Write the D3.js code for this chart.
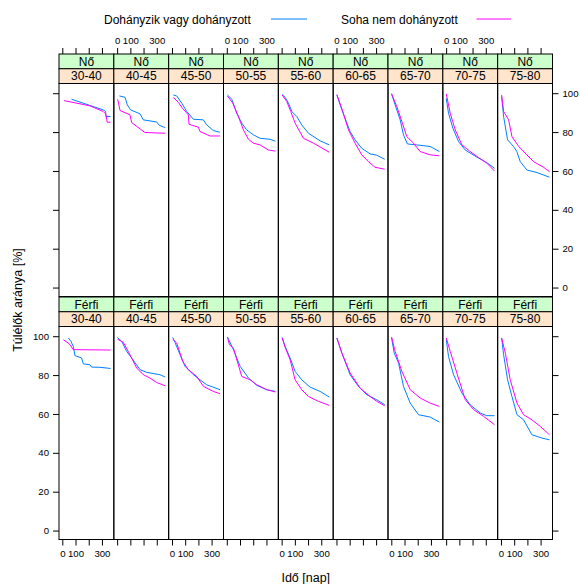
<!DOCTYPE html>
<html><head><meta charset="utf-8">
<script src="https://cdn.jsdelivr.net/npm/d3@7"></script>
<style>body{margin:0;background:#fff} svg{display:block} text{font-family:"Liberation Sans",Arial,sans-serif;fill:#000}</style>
</head><body><svg id="c" width="580" height="584"></svg>
<script>
// ---- data ----
const ageGroups = ["30-40","40-45","45-50","50-55","55-60","60-65","65-70","70-75","75-80"];
const sexLabels = ["Nő","Férfi"];
const seriesNames = ["Dohányzik vagy dohányzott","Soha nem dohányzott"];
const seriesColors = ["#0080ff","#ff00ff"];
const xTicks = [0,100,200,300];
const xTickLabels = ["0","100","","300"];
const yTicks = [0,20,40,60,80,100];
// [day, survival %] per age group
const noDohanyzik = [
 [[70,96.9],[310,91.4],[328,90.6],[330,88],[365,88]],
 [[17,98.6],[60,97.9],[77,94],[102,91.4],[173,89.4],[198,86.3],[299,85.2],[319,83.5],[364,82.3]],
 [[11,99.1],[36,98.6],[74,94.9],[112,90.6],[162,86.6],[237,86.3],[263,83.7],[313,80.8],[363,79.9]],
 [[5,99.1],[38,96.9],[75,89.7],[113,84.6],[151,81.1],[201,78.6],[252,76.8],[327,76.3],[368,75.3]],
 [[4,99.3],[26,97.9],[52,94.9],[77,90.6],[115,88],[152,83.7],[203,79.4],[291,75.5],[361,73.4]],
 [[3,99.1],[41,91.4],[103,80.3],[141,76],[191,71.7],[254,68.8],[305,68.1],[365,66]],
 [[2,99.7],[29,94],[67,86.3],[92,78.6],[122,73.9],[193,73.4],[294,72.6],[364,70]],
 [[1,97.4],[18,89.7],[51,82],[94,75.1],[144,70.8],[233,67.1],[308,64.3],[366,61.4]],
 [[5,98.3],[20,88],[50,76],[95,72.6],[120,70],[146,64.8],[196,60.5],[272,59.2],[367,56.8]]
];
const noSoha = [
 [[13,96.2],[209,93.5],[310,90.6],[330,89.2],[340,85.1],[365,85.1]],
 [[4,96.9],[22,91.1],[97,88.9],[110,84.9],[210,79.8],[364,79.4]],
 [[11,97.9],[49,95.2],[79,92.3],[124,88.9],[129,84],[200,82.5],[212,80.3],[288,78],[363,78]],
 [[5,98.6],[45,94.9],[88,88],[126,81.1],[164,76.3],[201,74.3],[252,73.4],[315,70.8],[368,70.2]],
 [[4,99.1],[39,95.7],[69,90.6],[102,84.6],[165,76.8],[241,74.3],[361,69.6]],
 [[3,99.3],[48,90.6],[91,81.1],[141,74.3],[191,68.3],[242,64.8],[292,61.9],[365,60.9]],
 [[2,99.7],[42,93.1],[80,85.4],[117,77.7],[168,74.3],[218,70],[294,68.3],[364,67.8]],
 [[1,99.7],[31,89.7],[69,81.1],[119,73.4],[182,70],[245,66.9],[308,64],[366,60]],
 [[5,99.1],[20,90.6],[58,86.3],[83,77.7],[134,72.6],[196,68.3],[246,64.8],[322,61.9],[367,59.7]]
];
const ferfiDohanyzik = [
 [[46,99.1],[66,97.3],[83,94.8],[96,90],[146,88.8],[159,85.8],[209,85.3],[222,84.1],[285,84],[365,83.4]],
 [[2,99.4],[35,97.3],[72,92.2],[110,88.8],[173,82.8],[223,81.4],[324,80.2],[364,79]],
 [[6,99.4],[23,96.8],[61,90.5],[99,84.5],[162,80.2],[212,77.6],[263,75],[363,72.5]],
 [[5,99.6],[50,93.1],[101,84.5],[164,78.5],[227,74.7],[302,72.5],[368,71.6]],
 [[4,99.4],[26,94.8],[64,88.8],[102,81.9],[152,77.6],[215,73.8],[291,71.6],[361,68.7]],
 [[3,99.1],[41,91.3],[103,80.2],[166,74.2],[229,69.9],[305,67.3],[365,64.8]],
 [[2,99.1],[22,91.3],[55,86.2],[92,74.2],[143,65.6],[206,59.6],[294,58.4],[364,55.8]],
 [[1,98.2],[18,89.6],[56,80.2],[119,70.8],[182,64.7],[258,60.5],[308,59.1],[366,59.1]],
 [[5,99.1],[20,90.5],[50,77.6],[83,69],[121,59.6],[171,57],[234,49.3],[310,47.6],[367,46.7]]
];
const ferfiSoha = [
 [[8,98.2],[53,96.1],[83,93.1],[365,92.9]],
 [[2,98.5],[47,96.8],[97,90.5],[148,83.6],[198,80.2],[248,78.5],[299,76.2],[364,74.5]],
 [[6,98.5],[36,96.5],[81,87.1],[124,82.8],[187,79.3],[238,74.2],[313,71.6],[363,70.4]],
 [[5,99.6],[20,95.6],[50,93.9],[113,79.3],[176,77.6],[227,75],[302,72.5],[368,71.3]],
 [[4,99.1],[26,94.4],[64,87.9],[102,77.6],[152,72.5],[203,69],[278,66.5],[361,64.4]],
 [[3,99.1],[41,91.3],[103,81.1],[179,73.3],[254,69],[305,66.5],[365,64.2]],
 [[2,99.6],[29,92.2],[80,81.9],[143,72.5],[218,68.2],[294,65.6],[364,63.9]],
 [[1,99.1],[31,92.2],[81,81.1],[145,67.3],[208,62.2],[283,58.8],[366,54.5]],
 [[5,99.1],[33,91.3],[70,77.6],[121,65.6],[171,59.6],[234,57],[297,53.6],[367,49.3]]
];
const rowSeries = [[noDohanyzik, noSoha],[ferfiDohanyzik, ferfiSoha]];

// ---- layout ----
const svg = d3.select("#c");
const L = 59, R = 552.5, ncol = ageGroups.length, cw = (R - L) / ncol;
const rows = [
  {stripTop: 54, panelTop: 83.5, panelBot: 296.5},
  {stripTop: 297, panelTop: 326.5, panelBot: 539.5}
];
const xDomain = [-25, 390], yDomain = [-4.6, 105];
const font = "Liberation Sans, Arial, sans-serif";

rows.forEach((row, ri) => {
  const y = d3.scaleLinear().domain(yDomain).range([row.panelBot, row.panelTop]);
  const sh = (row.panelTop - row.stripTop) / 2;
  ageGroups.forEach((ag, ci) => {
    const x0 = L + ci * cw, x1 = x0 + cw;
    const x = d3.scaleLinear().domain(xDomain).range([x0, x1]);
    const g = svg.append("g");
    const cid = `clip${ri}_${ci}`;
    svg.append("clipPath").attr("id", cid).append("rect")
      .attr("x", x0).attr("y", row.panelTop).attr("width", cw).attr("height", row.panelBot - row.panelTop);
    const line = d3.line().x(d => x(d[0])).y(d => y(d[1]));
    rowSeries[ri].forEach((ser, si) => {
      g.append("path").datum(ser[ci]).attr("d", line)
        .attr("clip-path", `url(#${cid})`)
        .attr("fill", "none").attr("stroke", seriesColors[si]).attr("stroke-width", 1);
    });
    svg.append("rect").attr("x", x0).attr("y", row.stripTop).attr("width", cw).attr("height", sh)
      .attr("fill", "#ccffcc").attr("stroke", "#000").attr("stroke-width", 1);
    svg.append("rect").attr("x", x0).attr("y", row.stripTop + sh).attr("width", cw).attr("height", sh)
      .attr("fill", "#ffe5cc").attr("stroke", "#000").attr("stroke-width", 1);
    svg.append("text").attr("x", (x0 + x1) / 2).attr("y", row.stripTop + sh / 2 + 4.3)
      .attr("text-anchor", "middle").attr("font-size", 12).text(sexLabels[ri]);
    svg.append("text").attr("x", (x0 + x1) / 2).attr("y", row.stripTop + sh * 1.5 + 4.3)
      .attr("text-anchor", "middle").attr("font-size", 12).text(ag);
    svg.append("rect").attr("x", x0).attr("y", row.panelTop).attr("width", cw).attr("height", row.panelBot - row.panelTop)
      .attr("fill", "none").attr("stroke", "#000").attr("stroke-width", 1);
    if (ri === 0) {
      const showLab = ci % 2 === 1;
      const ax = d3.axisTop(x).tickValues(xTicks).tickSize(6).tickPadding(4)
        .tickFormat((d, i) => showLab ? xTickLabels[i] : "");
      const ga = svg.append("g").attr("transform", `translate(0,${row.stripTop})`).call(ax);
      ga.select(".domain").remove();
      ga.selectAll("text").attr("font-size", 9.6).attr("font-family", font);
    }
    if (ri === rows.length - 1) {
      const showLab = ci % 2 === 0;
      const ax = d3.axisBottom(x).tickValues(xTicks).tickSize(6).tickPadding(5)
        .tickFormat((d, i) => showLab ? xTickLabels[i] : "");
      const ga = svg.append("g").attr("transform", `translate(0,${row.panelBot})`).call(ax);
      ga.select(".domain").remove();
      ga.selectAll("text").attr("font-size", 9.6).attr("font-family", font);
    }
  });
  const axL = d3.axisLeft(y).tickValues(yTicks).tickSize(6).tickPadding(4)
    .tickFormat(d => ri === 1 ? d : "");
  const gl = svg.append("g").attr("transform", `translate(${L},0)`).call(axL);
  gl.select(".domain").remove();
  gl.selectAll("text").attr("font-size", 9.6).attr("font-family", font);
  const axR = d3.axisRight(y).tickValues(yTicks).tickSize(6).tickPadding(4)
    .tickFormat(d => ri === 0 ? d : "");
  const gr = svg.append("g").attr("transform", `translate(${R},0)`).call(axR);
  gr.select(".domain").remove();
  gr.selectAll("text").attr("font-size", 9.6).attr("font-family", font);
});

// legend
const legendPos = [{tx: 104, lx0: 271, lx1: 307}, {tx: 341, lx0: 476.5, lx1: 511}];
seriesNames.forEach((nm, i) => {
  const p = legendPos[i];
  svg.append("text").attr("x", p.tx).attr("y", 23.5).attr("font-size", 12).text(nm);
  svg.append("line").attr("x1", p.lx0).attr("x2", p.lx1).attr("y1", 19).attr("y2", 19)
    .attr("stroke", seriesColors[i]).attr("stroke-width", 1);
});

// axis titles
svg.append("text").attr("x", (L + R) / 2).attr("y", 581.5).attr("text-anchor", "middle")
  .attr("font-size", 12.5).text("Idő [nap]");
svg.append("text").attr("transform", `translate(21.5,300) rotate(-90)`).attr("text-anchor", "middle")
  .attr("font-size", 12.5).text("Túlélők aránya [%]");
</script></body></html>
